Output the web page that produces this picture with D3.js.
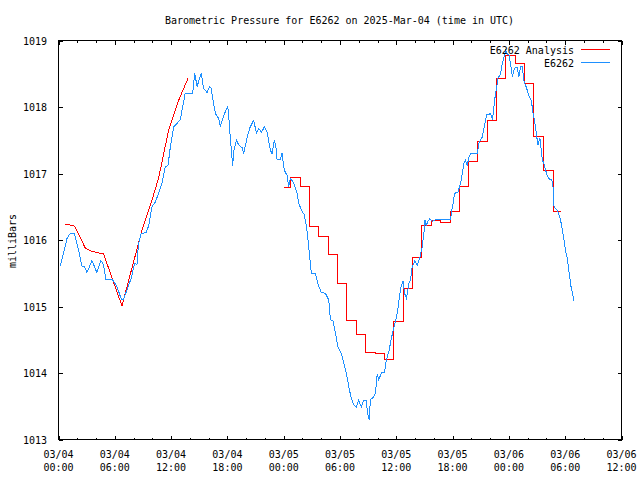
<!DOCTYPE html>
<html><head><meta charset="utf-8">
<script src="https://cdn.jsdelivr.net/npm/d3@7"></script>
<style>
body{margin:0;background:#fff}
svg text{font-family:"DejaVu Sans Mono","Liberation Mono",monospace;font-size:10px;fill:#000}
</style>
</head><body>
<svg id="chart" width="640" height="480"></svg>
<script>
// ---- data (hours since 2025-03-04 00:00 UTC, pressure in mb) ----
const chartTitle = "Barometric Pressure for E6262 on 2025-Mar-04 (time in UTC)";
const yLabel = "milliBars";
const seriesNames = ["E6262 Analysis", "E6262"];
const seriesColors = ["#ff0000", "#1e90ff"];
const yTicks = [1013, 1014, 1015, 1016, 1017, 1018, 1019];
const xMajorHours = [0, 6, 12, 18, 24, 30, 36, 42, 48, 54, 60];
const xMinorHours = [2,4,8,10,14,16,20,22,26,28,32,34,38,40,44,46,50,52,56,58];

const obsHours = [0.18,0.53,0.90,1.25,1.70,2.13,2.50,2.77,3.03,3.57,
4.09,4.52,4.80,5.06,5.76,6.23,6.69,6.93,7.30,7.76,
8.11,8.36,8.53,8.82,9.32,9.60,9.96,10.32,10.66,11.03,
11.38,11.67,11.92,12.27,12.62,12.98,13.16,13.51,14.30,14.51,
14.77,15.22,15.46,15.83,16.11,16.26,16.54,16.72,17.07,17.24,
17.53,17.78,18.03,18.13,18.31,18.42,18.56,18.67,18.96,19.20,
19.56,19.73,20.09,20.37,20.80,21.09,21.34,21.63,21.94,22.23,
22.58,22.76,23.01,23.22,23.29,23.65,23.82,24.07,24.36,24.53,
24.71,25.07,25.43,25.60,25.97,26.20,26.42,26.56,26.77,26.95,
27.38,27.63,27.99,28.44,28.80,28.98,29.27,29.51,29.80,30.12,
30.41,30.68,30.93,31.18,31.47,31.75,32.00,32.26,32.54,32.79,
32.96,33.11,33.24,33.53,33.78,33.96,34.13,34.42,34.74,34.95,
35.20,35.45,35.67,35.91,36.16,36.45,36.72,36.88,37.09,37.34,
37.51,37.69,37.99,38.22,38.51,38.76,38.94,39.05,39.19,39.37,
39.57,39.82,40.29,41.79,41.89,42.06,42.20,42.56,42.85,43.03,
43.20,43.38,43.56,43.74,43.92,44.62,44.80,45.16,45.34,45.62,
46.05,46.23,46.34,46.47,46.68,46.83,47.11,47.29,47.47,47.65,
47.83,48.01,48.18,48.37,48.54,48.71,48.89,49.06,49.25,49.42,
49.60,49.89,50.14,50.39,50.60,50.75,50.96,51.10,51.31,51.45,
51.56,51.74,51.91,52.09,52.34,52.56,52.70,52.74,52.88,53.16,
53.34,53.51,53.69,53.87,54.05,54.23,54.33,54.48,54.62,54.80,
54.90];
const obsPressure = [1015.61,1015.80,1016.02,1016.10,1016.10,1015.85,1015.61,1015.60,1015.51,1015.69,
1015.51,1015.69,1015.63,1015.40,1015.40,1015.30,1015.11,1015.11,1015.25,1015.43,
1015.65,1015.63,1015.95,1016.10,1016.11,1016.21,1016.50,1016.57,1016.70,1016.85,
1017.10,1017.12,1017.40,1017.70,1017.75,1017.81,1017.95,1018.21,1018.21,1018.51,
1018.31,1018.51,1018.28,1018.22,1018.31,1018.28,1018.05,1017.90,1017.83,1017.71,
1017.83,1017.93,1018.00,1017.90,1017.53,1017.35,1017.11,1017.33,1017.50,1017.43,
1017.39,1017.30,1017.53,1017.68,1017.80,1017.61,1017.68,1017.62,1017.70,1017.62,
1017.35,1017.30,1017.50,1017.35,1017.21,1017.21,1017.30,1017.05,1016.97,1016.80,
1016.93,1016.86,1016.70,1016.55,1016.43,1016.38,1016.20,1016.05,1015.75,1015.50,
1015.49,1015.35,1015.21,1015.20,1015.10,1014.80,1014.78,1014.60,1014.38,1014.30,
1014.15,1014.00,1013.80,1013.63,1013.52,1013.49,1013.59,1013.49,1013.59,1013.59,
1013.38,1013.30,1013.60,1013.63,1013.70,1013.98,1013.90,1014.00,1014.01,1014.20,
1014.32,1014.50,1014.65,1014.77,1014.95,1015.27,1015.38,1015.20,1015.12,1015.35,
1015.40,1015.60,1015.69,1015.62,1015.73,1015.90,1016.10,1016.30,1016.22,1016.28,
1016.32,1016.28,1016.31,1016.31,1016.43,1016.55,1016.70,1016.72,1016.85,1017.00,
1017.15,1017.20,1017.12,1017.25,1017.30,1017.30,1017.45,1017.55,1017.68,1017.88,
1017.90,1017.83,1017.90,1018.10,1018.28,1018.43,1018.50,1018.65,1018.75,1018.85,
1018.80,1018.78,1018.65,1018.45,1018.55,1018.60,1018.60,1018.45,1018.61,1018.61,
1018.40,1018.28,1018.17,1018.10,1017.88,1017.78,1017.56,1017.43,1017.53,1017.35,
1017.20,1017.15,1017.05,1016.97,1016.91,1016.91,1016.80,1016.53,1016.49,1016.45,
1016.38,1016.30,1016.15,1016.00,1015.83,1015.73,1015.60,1015.45,1015.30,1015.18,
1015.09];

// analysis, first part (smooth)
const anaRampHours = [0.71,1.71,2.13,2.85,3.56,4.80,6.76,8.90,9.96,10.67,11.73,12.80,13.80];
const anaRampPressure = [1016.24,1016.21,1016.09,1015.88,1015.83,1015.79,1015.01,1016.15,1016.60,1016.93,1017.65,1018.10,1018.43];
// analysis, second part (hourly steps)
const anaStepHours = [24.02,24.75,25.75,26.75,27.75,28.75,29.75,30.74,31.74,32.74,33.73,34.73,35.65,36.72,37.71,38.65,39.70,40.70,41.75,42.69,43.69,44.68,45.68,46.67,47.62,48.68,49.66,50.66,51.72,52.72,53.59];
const anaStepPressure = [1016.79,1016.94,1016.81,1016.20,1016.06,1015.78,1015.34,1014.79,1014.58,1014.31,1014.29,1014.20,1014.77,1015.27,1015.73,1016.22,1016.29,1016.26,1016.43,1016.80,1017.18,1017.48,1017.80,1018.43,1018.77,1018.65,1018.35,1017.56,1017.05,1016.43,1016.43];

// ---- drawing ----
const t0 = Date.UTC(2025, 2, 4, 0, 0);
const toDate = h => new Date(t0 + h * 3600000);
const svg = d3.select("#chart");
const L = 58.5, R = 621.5, T = 40.5, B = 439.5;

const x = d3.scaleUtc().domain([toDate(0), toDate(60)]).range([L, R]);
const y = d3.scaleLinear().domain([1013, 1019]).range([B, T]);

svg.append("rect").attr("width", 640).attr("height", 480).attr("fill", "#fff");

function styleAxis(g) {
  g.select(".domain").remove();
  g.selectAll("line").attr("stroke", "#000").attr("shape-rendering", "crispEdges");
  g.attr("font-family", null).attr("font-size", null);
}

// minor x ticks (bottom/top)
svg.append("g").attr("transform", `translate(0,${B})`)
  .call(d3.axisBottom(x).tickValues(xMinorHours.map(toDate)).tickSizeInner(-2).tickSizeOuter(0).tickFormat(() => ""))
  .call(styleAxis);
svg.append("g").attr("transform", `translate(0,${T})`)
  .call(d3.axisTop(x).tickValues(xMinorHours.map(toDate)).tickSizeInner(-2).tickSizeOuter(0).tickFormat(() => ""))
  .call(styleAxis);
// major x ticks
svg.append("g").attr("transform", `translate(0,${B})`)
  .call(d3.axisBottom(x).tickValues(xMajorHours.map(toDate)).tickSizeInner(-4).tickSizeOuter(0).tickFormat(() => ""))
  .call(styleAxis);
svg.append("g").attr("transform", `translate(0,${T})`)
  .call(d3.axisTop(x).tickValues(xMajorHours.map(toDate)).tickSizeInner(-4).tickSizeOuter(0).tickFormat(() => ""))
  .call(styleAxis);
// y ticks
svg.append("g").attr("transform", `translate(${L},0)`)
  .call(d3.axisLeft(y).tickValues(yTicks).tickSizeInner(-4).tickSizeOuter(0).tickPadding(11.5).tickFormat(d3.format("d")))
  .call(styleAxis)
  .call(g => g.selectAll("text").attr("dy", "0.36em").attr("fill", "#000"));
svg.append("g").attr("transform", `translate(${R},0)`)
  .call(d3.axisRight(y).tickValues(yTicks).tickSizeInner(-4).tickSizeOuter(0).tickFormat(() => ""))
  .call(styleAxis);

// x tick labels (two lines)
const fmtDay = d3.utcFormat("%m/%d"), fmtTime = d3.utcFormat("%H:%M");
const xl = svg.append("g").selectAll("text").data(xMajorHours.map(toDate)).join("text")
  .attr("text-anchor", "middle");
xl.append("tspan").attr("x", d => x(d)).attr("y", 457.5).text(d => fmtDay(d));
xl.append("tspan").attr("x", d => x(d)).attr("y", 470.5).text(d => fmtTime(d));

// border
svg.append("rect").attr("x", L).attr("y", T).attr("width", R - L).attr("height", B - T)
  .attr("fill", "none").attr("stroke", "#000").attr("shape-rendering", "crispEdges");

// lines
const lineLin = d3.line().x(d => x(toDate(d[0]))).y(d => y(d[1]));
const lineStep = d3.line().x(d => x(toDate(d[0]))).y(d => y(d[1])).curve(d3.curveStepAfter);

svg.append("path").datum(d3.zip(anaRampHours, anaRampPressure))
  .attr("d", lineLin).attr("fill", "none").attr("stroke", seriesColors[0]).attr("stroke-width", 1)
  .attr("shape-rendering", "crispEdges");
svg.append("path").datum(d3.zip(anaStepHours, anaStepPressure))
  .attr("d", lineStep).attr("fill", "none").attr("stroke", seriesColors[0]).attr("stroke-width", 1)
  .attr("shape-rendering", "crispEdges");
svg.append("path").datum(d3.zip(obsHours, obsPressure))
  .attr("d", lineLin).attr("fill", "none").attr("stroke", seriesColors[1]).attr("stroke-width", 1)
  .attr("shape-rendering", "crispEdges");

// title
svg.append("text").attr("x", 339.5).attr("y", 24).attr("text-anchor", "middle").text(chartTitle);
// y label
svg.append("text").attr("transform", "translate(16,241) rotate(-90)").attr("text-anchor", "middle").text(yLabel);

// legend
const legRows = [49.5, 62.5];
seriesNames.forEach((name, i) => {
  svg.append("text").attr("x", 574).attr("y", legRows[i] + 4).attr("text-anchor", "end").text(name);
  svg.append("line").attr("x1", 581).attr("x2", 610).attr("y1", legRows[i]).attr("y2", legRows[i])
    .attr("stroke", seriesColors[i]).attr("shape-rendering", "crispEdges");
});
</script>
</body></html>
